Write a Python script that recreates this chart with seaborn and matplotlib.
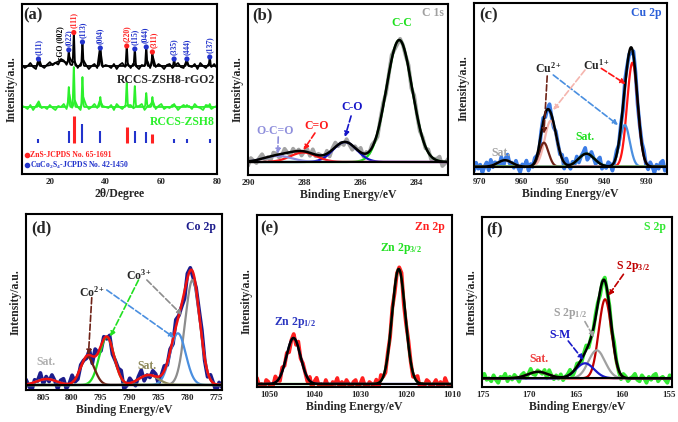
import matplotlib
matplotlib.use("Agg")
import matplotlib.pyplot as plt
import numpy as np
import seaborn as sns

# jitter of the raw traces, read by eye (arbitrary units, reused per panel)
jitter = [1, -2, 0, 3, -1, -3, 2, 0, -2, 1, 3, -1, 0, -3, 2, 1, -2, -1, 3, 0,
          -2, 2, -1, 1, -3, 0, 2, -2, 3, -1, 1, 0, -2, 2, -3, 1, 3, -1, 0, -2,
          2, -1, -3, 1, 0, 3, -2, 1, -1, 2, 0, -3, 1, 2, -2, 0, 3, -1, -2, 1,
          0, -1, 2, -3, 3, 0, -2, 1, -1, 2, -2, 0, 1, 3, -3, -1, 2, 0, -2, 1,
          3, -2, 0, -1, 2, 1, -3, 0, 2, -1, 1, -2, 3, 0, -1, -3, 2, 1, -2, 0,
          1, 3, -1, -2, 2, 0, -3, 1, -1, 2, 3, -2, 0, 1, -1, -3, 2, 0, 1, -2]

# (a) XRD
xrd_pos = [15.9, 26.8, 28.6, 31.7, 38.1, 47.6, 50.5, 54.6, 56.8, 64.6, 69.2, 77.4]
xrd_hkl = ["(111)", "(022)", "(111)", "(113)", "(004)", "(220)", "(115)",
           "(044)", "(311)", "(335)", "(444)", "(137)"]
xrd_phase = ["CuCo2S4", "CuCo2S4", "ZnS", "CuCo2S4", "CuCo2S4", "ZnS", "CuCo2S4",
             "CuCo2S4", "ZnS", "CuCo2S4", "CuCo2S4", "CuCo2S4"]
rgo_h = [7, 14, 33, 24, 18, 20, 17, 19, 14, 7, 7, 9]
zsh8_h = [3, 20, 40, 30, 10, 24, 21, 14, 10, 3, 2, 3]
stick_h = [4, 12, 27, 19, 12, 16, 12, 11, 9, 4, 4, 4]
rgo_base, zsh8_base, stick_base = 108, 67, 31
rgo_hump = [24.0, 5, 5.0]  # centre, height, fwhm of the rGO (002) hump
xrd_fwhm = 0.45

# (b) C 1s : centre / height / fwhm
b_names = ["C-C", "C-O", "C=O", "O-C=O"]
b_center = [284.6, 286.54, 288.02, 288.93]
b_height = [122, 20, 9.5, 6]
b_fwhm = [1.08, 1.0, 1.1, 1.2]

# (c) Cu 2p
c_names = ["Cu+ 2p3/2", "Cu2+ 2p3/2", "Cu+ 2p1/2", "Cu2+ 2p1/2", "Sat.", "Sat. 2"]
c_center = [933.35, 935.18, 952.9, 954.54, 944.34, 963.86]
c_height = [104, 41.7, 46, 24, 13, 6.5]
c_fwhm = [3.0, 2.8, 3.4, 2.6, 4.5, 4.0]

# (d) Co 2p
d_names = ["Co3+ 2p3/2", "Co2+ 2p3/2", "Co3+ 2p1/2", "Co2+ 2p1/2", "Sat.", "Sat. 2"]
d_center = [779.03, 781.58, 793.93, 797.29, 786.68, 804.36]
d_height = [105, 51.7, 48, 28.3, 10, 6]
d_fwhm = [3.0, 3.2, 3.0, 2.8, 4.0, 4.0]

# (e) Zn 2p
e_names = ["Zn 2p3/2", "Zn 2p1/2"]
e_center = [1021.63, 1044.6]
e_height = [115, 46]
e_fwhm = [3.4, 3.6]

# (f) S 2p
f_names = ["S 2p3/2", "S 2p1/2", "S-M", "Sat."]
f_center = [161.84, 162.74, 164.0, 169.05]
f_height = [79, 28, 15, 6.5]
f_fwhm = [1.6, 2.1, 2.3, 2.6]


def gsum(x, centers, heights, fwhms):
    y = np.zeros_like(x)
    for c, h, w in zip(centers, heights, fwhms):
        y = y + h * np.exp(-4 * np.log(2) * (x - c) ** 2 / w ** 2)
    return y


sns.set_theme(style="white")
plt.rcParams["font.family"] = ["Liberation Serif", "DejaVu Serif"]
plt.rcParams["font.weight"] = "bold"
plt.rcParams["mathtext.fontset"] = "custom"
plt.rcParams["mathtext.rm"] = "Liberation Serif:bold"
plt.rcParams["mathtext.it"] = "Liberation Serif:italic:bold"
plt.rcParams["mathtext.bf"] = "Liberation Serif:bold"

W, H = 678, 422
fig = plt.figure(figsize=(W / 100, H / 100), dpi=100)


def box(l, r, t, b):
    return [l / W, 1 - b / H, (r - l) / W, (b - t) / H]


def style(ax, xlim, ylim, ticks, xlabel):
    ax.set_xlim(*xlim)
    ax.set_ylim(*ylim)
    ax.set_xticks(ticks)
    ax.set_yticks([])
    ax.tick_params(axis="x", length=0, pad=3, labelsize=6.5)
    ax.set_xlabel(xlabel, fontsize=8.5, fontweight="bold", labelpad=1)
    ax.set_ylabel("Intensity/a.u.", fontsize=8.5, fontweight="bold", labelpad=3)
    for s in ax.spines.values():
        s.set_linewidth(1.5)
        s.set_color("black")


def arrow(ax, tail, head, color):
    ax.annotate("", xy=head, xytext=tail,
                arrowprops=dict(arrowstyle="-|>", color=color, lw=1.2, ls="--",
                                mutation_scale=7, shrinkA=0, shrinkB=0))


def corner(ax, letter, lx, tag, tx, ty, color):
    ax.text(lx, ty - 0.01, letter, transform=ax.transAxes, fontsize=12,
            ha="center", va="center")
    ax.text(tx, ty, tag, transform=ax.transAxes, fontsize=8.5, ha="center",
            va="center", color=color)


def xps(ax, lo, hi, centers, heights, fwhms, colors, raw_color, env_color,
        noise, scale):
    xf = np.linspace(lo, hi, 700)
    xr = np.linspace(lo, hi, len(noise))
    raw = gsum(xr, centers, heights, fwhms) + scale * np.array(noise)
    sns.lineplot(x=xr, y=raw, ax=ax, color=raw_color, lw=2.7)
    for c, h, w, col in zip(centers, heights, fwhms, colors):
        sns.lineplot(x=xf, y=gsum(xf, [c], [h], [w]), ax=ax, color=col, lw=1.6)
    sns.lineplot(x=xf, y=gsum(xf, centers, heights, fwhms), ax=ax,
                 color=env_color, lw=1.8)
    sns.lineplot(x=xf, y=np.zeros_like(xf), ax=ax, color="black", lw=1.5)


# ---------------- (a) ----------------
ax = fig.add_axes(box(22, 217, 4, 174))
xf = np.linspace(10, 80, 1401)
xr = np.linspace(10, 80, 71)
cen = xrd_pos + [rgo_hump[0]]
hb = rgo_h + [rgo_hump[1]]
wb = [xrd_fwhm] * len(xrd_pos) + [rgo_hump[2]]
sns.lineplot(x=xr, y=zsh8_base + gsum(xr, xrd_pos, zsh8_h, [xrd_fwhm] * 12)
             + 1.0 * np.array(jitter[30:101]), ax=ax, color="#2cf02c", lw=1.3)
sns.lineplot(x=xf, y=zsh8_base + gsum(xf, xrd_pos, zsh8_h, [xrd_fwhm] * 12),
             ax=ax, color="#2cf02c", lw=1.3)
sns.lineplot(x=xr, y=rgo_base + gsum(xr, cen, hb, wb) + 1.0 * np.array(jitter[0:71]),
             ax=ax, color="black", lw=1.3)
sns.lineplot(x=xf, y=rgo_base + gsum(xf, cen, hb, wb), ax=ax, color="black", lw=1.3)
phase_col = {"ZnS": "#ff2222", "CuCo2S4": "#2233cc"}
tops = rgo_base + gsum(np.array(xrd_pos), cen, hb, wb)
ax.vlines(xrd_pos, stick_base, stick_base + np.array(stick_h),
          colors=[phase_col[p] for p in xrd_phase],
          linewidths=[2.2 if p == "ZnS" else 1.5 for p in xrd_phase])
sns.scatterplot(x=xrd_pos, y=tops, hue=xrd_phase, palette=phase_col, s=14,
                edgecolor="none", legend=False, ax=ax, zorder=5)
nudge = {7: -1.3, 8: 1.3}  # keep the crowded (044)/(311) labels apart
for i, (x, t, lab, p) in enumerate(zip(xrd_pos, tops, xrd_hkl, xrd_phase)):
    ax.annotate(lab, (x, t), xytext=(nudge.get(i, 0), 3), textcoords="offset points",
                rotation=90, ha="center", va="bottom", fontsize=5.5,
                color=phase_col[p])
ax.text(23.8, 114, "rGO (002)", rotation=90, ha="center", va="bottom",
        fontsize=5.5, color="black")
ax.text(79.3, 94, "RCCS-ZSH8-rGO2", ha="right", va="center", fontsize=8.5)
ax.text(79.3, 52, "RCCS-ZSH8", ha="right", va="center", fontsize=8.5,
        color="#2cf02c")
ax.plot([11.8], [19], "o", ms=3, color="#ff2222")
ax.plot([11.8], [9], "o", ms=3, color="#2233cc")
ax.text(12.8, 19, "ZnS-JCPDS No. 65-1691", va="center", fontsize=5.6,
        color="#ff2222")
ax.text(12.8, 9, "CuCo$_2$S$_4$-JCPDS No. 42-1450", va="center", fontsize=5.6,
        color="#2233cc")
ax.text(0.056, 0.935, "(a)", transform=ax.transAxes, fontsize=12,
        ha="center", va="center")
style(ax, (10, 80), (0, 170), [20, 40, 60, 80], "2θ/Degree")

# ---------------- (b) ----------------
ax = fig.add_axes(box(248, 448, 4, 175))
xps(ax, 290, 282.86, b_center, b_height, b_fwhm,
    ["#1fe01f", "#1515c8", "#ff1a1a", "#8f8fdc"], "#a3a3a3", "black",
    jitter[5:77], 1.5)
ax.text(284.5, 139, "C-C", color="#1fe01f", fontsize=8.5, ha="center", va="center")
ax.text(286.29, 55, "C-O", color="#1515c8", fontsize=8.5, ha="center", va="center")
ax.text(287.54, 36, "C=O", color="#ff1a1a", fontsize=8.5, ha="center", va="center")
ax.text(289.04, 31, "O-C=O", color="#8f8fdc", fontsize=8.5, ha="center", va="center")
arrow(ax, (286.32, 46), (286.54, 25), "#1515c8")
arrow(ax, (287.61, 29), (288.02, 12), "#ff1a1a")
arrow(ax, (288.92, 25), (288.94, 8), "#8f8fdc")
corner(ax, "(b)", 0.07, "C 1s", 0.925, 0.945, "#a0a0a0")
style(ax, (290, 282.86), (-13, 158), [290, 288, 286, 284], "Binding Energy/eV")

# ---------------- (c) ----------------
ax = fig.add_axes(box(474, 667, 3, 174))
xps(ax, 971.27, 925.08, c_center, c_height, c_fwhm,
    ["#ff1414", "#4a8fe0", "#f5b5ae", "#6e2216", "#22e022", "#a5a5a5"],
    "#3b7ce6", "black", jitter[20:113], 2.0)
ax.text(953.5, 98, "Cu$^{2+}$", fontsize=8.5, ha="center", va="center")
ax.text(941.95, 101.7, "Cu$^{1+}$", fontsize=8.5, ha="center", va="center")
arrow(ax, (953.75, 90.7), (954.54, 33), "#6e2216")
arrow(ax, (952.3, 91.7), (936.8, 41.7), "#4a8fe0")
arrow(ax, (944.7, 96.7), (952.3, 56.7), "#f5b5ae")
arrow(ax, (940.8, 98.3), (935.0, 82.7), "#ff1414")
ax.text(944.7, 30, "Sat.", color="#22e022", fontsize=8.5, ha="center", va="center")
ax.text(964.7, 13.3, "Sat.", color="#a5a5a5", fontsize=8.5, ha="center", va="center")
corner(ax, "(c)", 0.078, "Cu 2p", 0.895, 0.94, "#2a5fd8")
style(ax, (971.27, 925.08), (-7.3, 163.7), [970, 960, 950, 940, 930],
      "Binding Energy/eV")

# ---------------- (d) ----------------
ax = fig.add_axes(box(26, 222, 214, 390))
xps(ax, 807.96, 773.92, d_center, d_height, d_fwhm,
    ["#8c8c8c", "#4a8fe0", "#22e022", "#6e2216", "#8f8a5c", "#b0b0b0"],
    "#1c1c8c", "#ee1111", jitter[40:109], 2.4)
ax.text(796.54, 92.7, "Co$^{2+}$", fontsize=8.5, ha="center", va="center")
ax.text(788.25, 109.3, "Co$^{3+}$", fontsize=8.5, ha="center", va="center")
arrow(ax, (796.54, 87.3), (797.12, 30), "#6e2216")
arrow(ax, (793.93, 95), (782.22, 47.3), "#4a8fe0")
arrow(ax, (788.42, 105), (793.35, 48.3), "#22e022")
arrow(ax, (786.97, 105), (780.86, 70), "#8c8c8c")
ax.text(804.48, 23.3, "Sat.", color="#b0b0b0", fontsize=8.5, ha="center", va="center")
ax.text(786.97, 19.3, "Sat.", color="#8f8a5c", fontsize=8.5, ha="center", va="center")
corner(ax, "(d)", 0.08, "Co 2p", 0.893, 0.928, "#1c1c8c")
style(ax, (807.96, 773.92), (-5, 171), [805, 800, 795, 790, 785, 780, 775],
      "Binding Energy/eV")

# ---------------- (e) ----------------
ax = fig.add_axes(box(257, 452, 215, 387))
xps(ax, 1052.57, 1010.0, e_center, e_height, e_fwhm,
    ["#22e022", "#2a35c0"], "#ff2020", "black", jitter[10:96], 2.0)
ax.text(1021.05, 135, "Zn 2p$_{3/2}$", color="#22e022", fontsize=8.5,
        ha="center", va="center")
ax.text(1044.24, 61.7, "Zn 2p$_{1/2}$", color="#2a35c0", fontsize=8.5,
        ha="center", va="center")
corner(ax, "(e)", 0.062, "Zn 2p", 0.885, 0.93, "#ff2020")
style(ax, (1052.57, 1010.0), (-3, 169), [1050, 1040, 1030, 1020, 1010],
      "Binding Energy/eV")

# ---------------- (f) ----------------
ax = fig.add_axes(box(482, 672, 217, 387))
xps(ax, 175.1, 154.63, f_center, f_height, f_fwhm,
    ["#c00000", "#a0a0a0", "#1a1ac8", "#ee4040"], "#33e833", "black",
    jitter[35:118], 1.5)
ax.text(158.78, 111.7, "S 2p$_{3/2}$", color="#c00000", fontsize=8.5,
        ha="center", va="center")
ax.text(165.63, 65, "S 2p$_{1/2}$", color="#a0a0a0", fontsize=8.5,
        ha="center", va="center")
ax.text(166.71, 43.3, "S-M", color="#1a1ac8", fontsize=8.5, ha="center", va="center")
ax.text(168.95, 19, "Sat.", color="#ee4040", fontsize=8.5, ha="center", va="center")
arrow(ax, (159.86, 104), (161.49, 82.7), "#c00000")
arrow(ax, (164.01, 56.7), (163.03, 40.7), "#a0a0a0")
arrow(ax, (165.81, 37.3), (164.19, 18.3), "#1a1ac8")
corner(ax, "(f)", 0.066, "S 2p", 0.91, 0.94, "#33e833")
style(ax, (175.1, 154.63), (-8.7, 161.3), [175, 170, 165, 160, 155],
      "Binding Energy/eV")

fig.savefig("out.png", dpi=100)
